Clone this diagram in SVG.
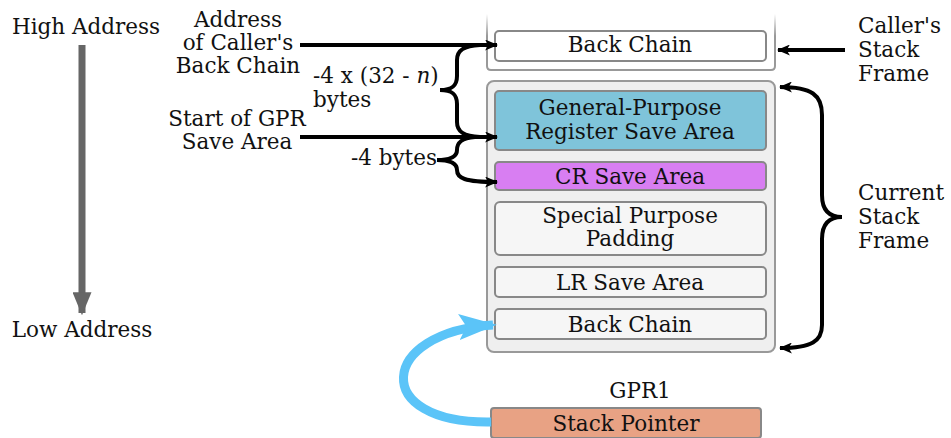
<svg xmlns="http://www.w3.org/2000/svg" width="951" height="438" viewBox="0 0 951 438">
<style>
text{font-family:"DejaVu Serif","Liberation Serif",serif;font-size:21.5px;fill:#111}
.c{text-anchor:middle}
.e{text-anchor:end}
.box{stroke:#888;stroke-width:2}
.inner{fill:#f6f6f6}
.blk{fill:none;stroke:#000;stroke-width:4}
</style>
<defs>
<marker id="ah" viewBox="0 0 12 10" refX="11" refY="5" markerWidth="13" markerHeight="11" markerUnits="userSpaceOnUse" orient="auto-start-reverse" preserveAspectRatio="none">
<path d="M0,0 L12,5 L0,10 L3,5 z" fill="#000"/>
</marker>
<marker id="gah" viewBox="0 0 10 10" refX="9" refY="5" markerWidth="23" markerHeight="19" markerUnits="userSpaceOnUse" orient="auto" preserveAspectRatio="none">
<path d="M0,0 L10,5 L0,10 z" fill="#666"/>
</marker>
<marker id="bah" viewBox="0 0 10 10" refX="9" refY="5" markerWidth="38" markerHeight="26" markerUnits="userSpaceOnUse" orient="auto" preserveAspectRatio="none">
<path d="M0,0 L10,5 L0,10 L2,5 z" fill="#5bc4f8"/>
</marker>
<linearGradient id="fade" gradientUnits="userSpaceOnUse" x1="0" y1="14" x2="0" y2="36">
<stop offset="0" stop-color="#999" stop-opacity="0"/>
<stop offset="1" stop-color="#999" stop-opacity="1"/>
</linearGradient>
</defs>

<g id="address-axis">
<text class="c" x="86" y="34">High Address</text>
<line x1="82" y1="45" x2="82" y2="313" stroke="#666" stroke-width="7" marker-end="url(#gah)"/>
<text class="c" x="82" y="337">Low Address</text>
</g>

<g id="callers-frame">
<path d="M487 14 L487 66 Q487 70 491 70 L771 70 Q775 70 775 66 L775 14" fill="#fff" stroke="url(#fade)" stroke-width="2"/>
<g id="caller-back-chain">
<rect class="box" x="495" y="31" width="271" height="30" rx="4" fill="#fff"/>
<text class="c" x="630" y="52">Back Chain</text>
</g>
</g>

<g id="current-frame">
<rect x="487" y="81" width="288" height="271" rx="7" fill="#efefef" stroke="#999" stroke-width="2"/>
<g id="gpr-save">
<rect class="box" x="495" y="91" width="271" height="59" rx="4" fill="#7fc4da"/>
<text class="c" x="630" y="115">General-Purpose</text>
<text class="c" x="630" y="139">Register Save Area</text>
</g>
<g id="cr-save">
<rect class="box" x="495" y="162" width="271" height="28" rx="4" fill="#d87ef2"/>
<text class="c" x="630" y="184">CR Save Area</text>
</g>
<g id="padding">
<rect class="box inner" x="495" y="202" width="271" height="53" rx="5"/>
<text class="c" x="630" y="223">Special Purpose</text>
<text class="c" x="630" y="246">Padding</text>
</g>
<g id="lr-save">
<rect class="box inner" x="495" y="267" width="271" height="30" rx="4"/>
<text class="c" x="630" y="290">LR Save Area</text>
</g>
<g id="back-chain">
<rect class="box inner" x="495" y="309" width="271" height="30" rx="4"/>
<text class="c" x="630" y="332">Back Chain</text>
</g>
</g>

<g id="stack-pointer">
<text class="c" x="640" y="398">GPR1</text>
<rect class="box" x="491" y="408" width="270" height="30" rx="3" fill="#e8a284"/>
<text class="c" x="626" y="431">Stack Pointer</text>
</g>

<g id="labels">
<text class="c" x="238" y="27">Address</text>
<text class="c" x="238" y="50">of Caller's</text>
<text class="c" x="238" y="73">Back Chain</text>
<text class="c" x="237" y="126">Start of GPR</text>
<text class="c" x="237" y="149">Save Area</text>
<text x="313" y="83">-4 x (32 - <tspan font-style="italic">n</tspan>)</text>
<text x="313" y="107">bytes</text>
<text class="e" x="437" y="165">-4 bytes</text>
<text x="858" y="33">Caller's</text>
<text x="858" y="57">Stack</text>
<text x="858" y="81">Frame</text>
<text x="858" y="200">Current</text>
<text x="858" y="224">Stack</text>
<text x="858" y="248">Frame</text>
</g>

<g id="connectors">
<line class="blk" x1="300" y1="45" x2="497" y2="45" marker-end="url(#ah)"/>
<line class="blk" x1="300" y1="137" x2="497" y2="137" marker-end="url(#ah)"/>
<path class="blk" d="M440 90 C452 90 457 86 457 76 L457 60 C457 50 464 46 480 45"/>
<path class="blk" d="M440 90 C452 90 457 94 457 104 L457 122 C457 132 464 136 480 137"/>
<path class="blk" d="M437 160 C452 160 457 156 457 150 C457 142 462 138 475 137"/>
<path class="blk" d="M437 160 C452 160 457 164 457 170 C457 178 464 182 497 182" marker-end="url(#ah)"/>
<line class="blk" x1="845" y1="50" x2="778" y2="50" marker-end="url(#ah)"/>
<path class="blk" d="M780 87 C812 87 822 95 822 115 L822 195 C822 211 830 217 842 217 C830 217 822 223 822 239 L822 325 C822 341 812 348 780 348" marker-start="url(#ah)" marker-end="url(#ah)"/>
<path d="M491 422 C370 424 378 332 493 325" fill="none" stroke="#5bc4f8" stroke-width="9" marker-end="url(#bah)"/>
</g>
</svg>
